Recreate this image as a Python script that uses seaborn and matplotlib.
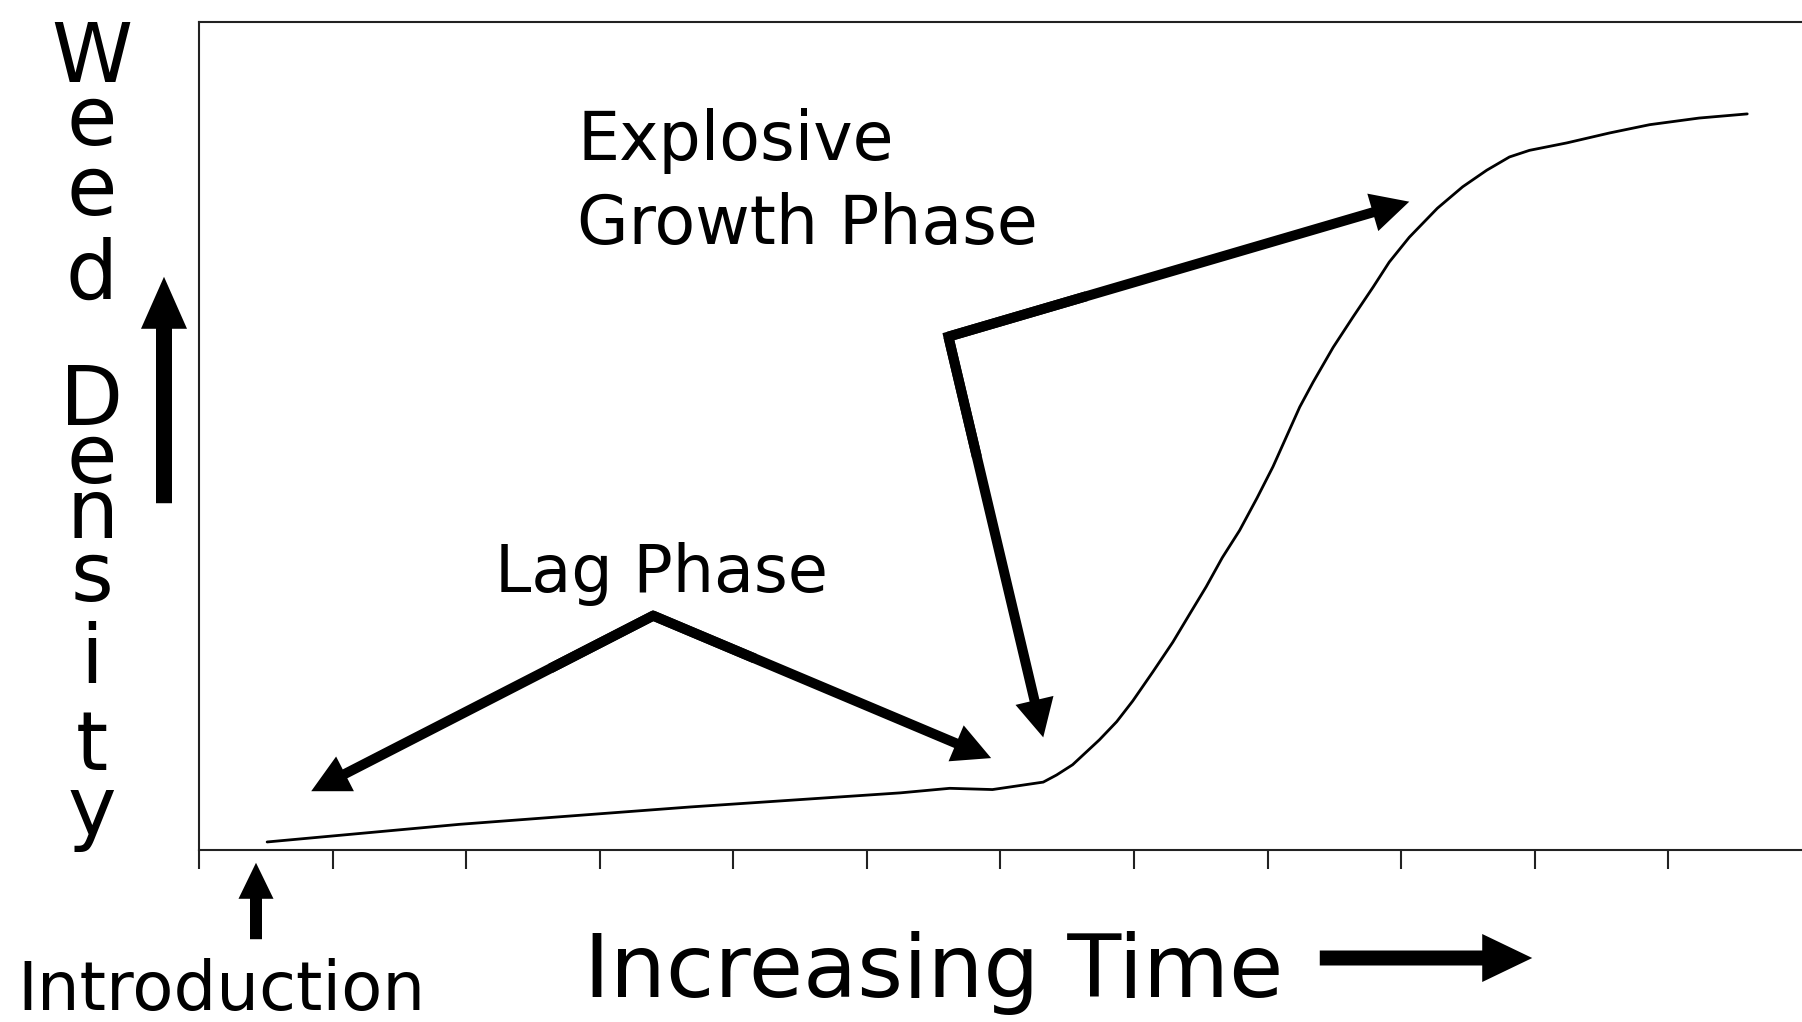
import matplotlib
matplotlib.use("Agg")
import matplotlib.pyplot as plt
import seaborn as sns
from matplotlib.patches import FancyArrowPatch

# weed density curve (x in tick units, y in 0-100)
time = [0.51, 1.95, 3.68, 5.25, 5.62, 5.94, 6.32, 6.42, 6.54, 6.74, 6.87, 6.99,
        7.14, 7.29, 7.42, 7.54, 7.66, 7.79, 7.92, 8.04, 8.14, 8.24, 8.34, 8.49,
        8.64, 8.79, 8.91, 9.06, 9.27, 9.46, 9.64, 9.81, 9.96, 10.24, 10.56,
        10.86, 11.23, 11.59]
density = [0.97, 3.1, 5.2, 6.9, 7.45, 7.3, 8.2, 9.06, 10.3, 13.3, 15.5, 18.0,
           21.5, 25.1, 28.6, 31.8, 35.3, 38.6, 42.5, 46.3, 49.9, 53.5, 56.5, 60.7,
           64.4, 68.0, 71.0, 74.0, 77.5, 80.1, 82.1, 83.7, 84.5, 85.4, 86.6,
           87.6, 88.4, 88.9]
time_ticks = list(range(0, 12))

# annotation arrows: shared start point and the two tips
lag_start = (3.40, 28.3)
lag_tips = [(0.84, 7.1), (5.93, 11.1)]
growth_start = (5.61, 62.0)
growth_tips = [(6.32, 13.6), (9.06, 78.3)]

W, H = 1802, 1022


def px(x, y):
    """pixel position in the picture -> figure fraction"""
    return x / W, 1 - y / H


def simple(tail, head_w, head_l):
    k = 0.72  # px -> pt at dpi 100
    return f"simple,tail_width={tail * k},head_width={head_w * k},head_length={head_l * k}"


def fork(ax, start, tips, tail=10, head_w=39, head_l=38):
    for tip in tips:
        ax.annotate("", xy=tip, xytext=start,
                    arrowprops=dict(arrowstyle=simple(tail, head_w, head_l),
                                    mutation_scale=1, color="black", lw=0,
                                    shrinkA=0, shrinkB=0))
    # mitred joint where the two arrows meet
    a, b = tips
    xs = [start[0] + 0.3 * (a[0] - start[0]), start[0], start[0] + 0.3 * (b[0] - start[0])]
    ys = [start[1] + 0.3 * (a[1] - start[1]), start[1], start[1] + 0.3 * (b[1] - start[1])]
    ax.plot(xs, ys, color="black", lw=tail * 0.72,
            solid_joinstyle="miter", solid_capstyle="butt")


def fig_arrow(fig, start, end, tail, head_w, head_l):
    fig.add_artist(FancyArrowPatch(px(*start), px(*end), transform=fig.transFigure,
                                   arrowstyle=simple(tail, head_w, head_l),
                                   mutation_scale=1, color="black", lw=0))


sns.set_theme(style="white")
plt.rcParams["font.family"] = ["DejaVu Sans"]
plt.rcParams["text.color"] = "black"

fig = plt.figure(figsize=(18.02, 10.22), dpi=100)
ax = fig.add_axes([199 / W, 1 - 850 / H, 1 - 199 / W, (850 - 22) / H])

sns.lineplot(x=time, y=density, color="black", lw=2, ax=ax)

ax.set_xlim(0, 12)
ax.set_ylim(0, 100)
ax.set_xticks(time_ticks)
ax.set_xticklabels([])
ax.set_yticks([])
ax.tick_params(axis="x", direction="out", length=14, width=1.5, color="#222222",
               bottom=True)
for side in ["left", "bottom", "top"]:
    ax.spines[side].set_color("#222222")
    ax.spines[side].set_linewidth(1.5)
ax.spines["right"].set_visible(False)

fork(ax, lag_start, lag_tips)
fork(ax, growth_start, growth_tips)

# text labels
fig.text(*px(577, 160), "Explosive", fontsize=48, va="baseline", ha="left")
fig.text(*px(577, 244), "Growth Phase", fontsize=48, va="baseline", ha="left")
fig.text(*px(495, 592), "Lag Phase", fontsize=47, va="baseline", ha="left")
fig.text(*px(584, 997), "Increasing Time", fontsize=63.5, va="baseline", ha="left")
fig.text(*px(17, 1010), "Introduction", fontsize=48.5, va="baseline", ha="left")

# stacked y label
letter_baselines = [82, 145, 215, 299, 425, 483, 538, 601, 683, 770, 835]
for ch, yb in zip("WeedDensity", letter_baselines):
    fig.text(*px(92, yb), ch, fontsize=59, va="baseline", ha="center")

# outer arrows
fig_arrow(fig, (164, 506), (164, 274), tail=16, head_w=46, head_l=52)
fig_arrow(fig, (1317, 958), (1535, 958), tail=15, head_w=48, head_l=50)
fig_arrow(fig, (256, 942), (256, 860), tail=12, head_w=35, head_l=36)

fig.savefig("out.png", dpi=100, facecolor="white")
